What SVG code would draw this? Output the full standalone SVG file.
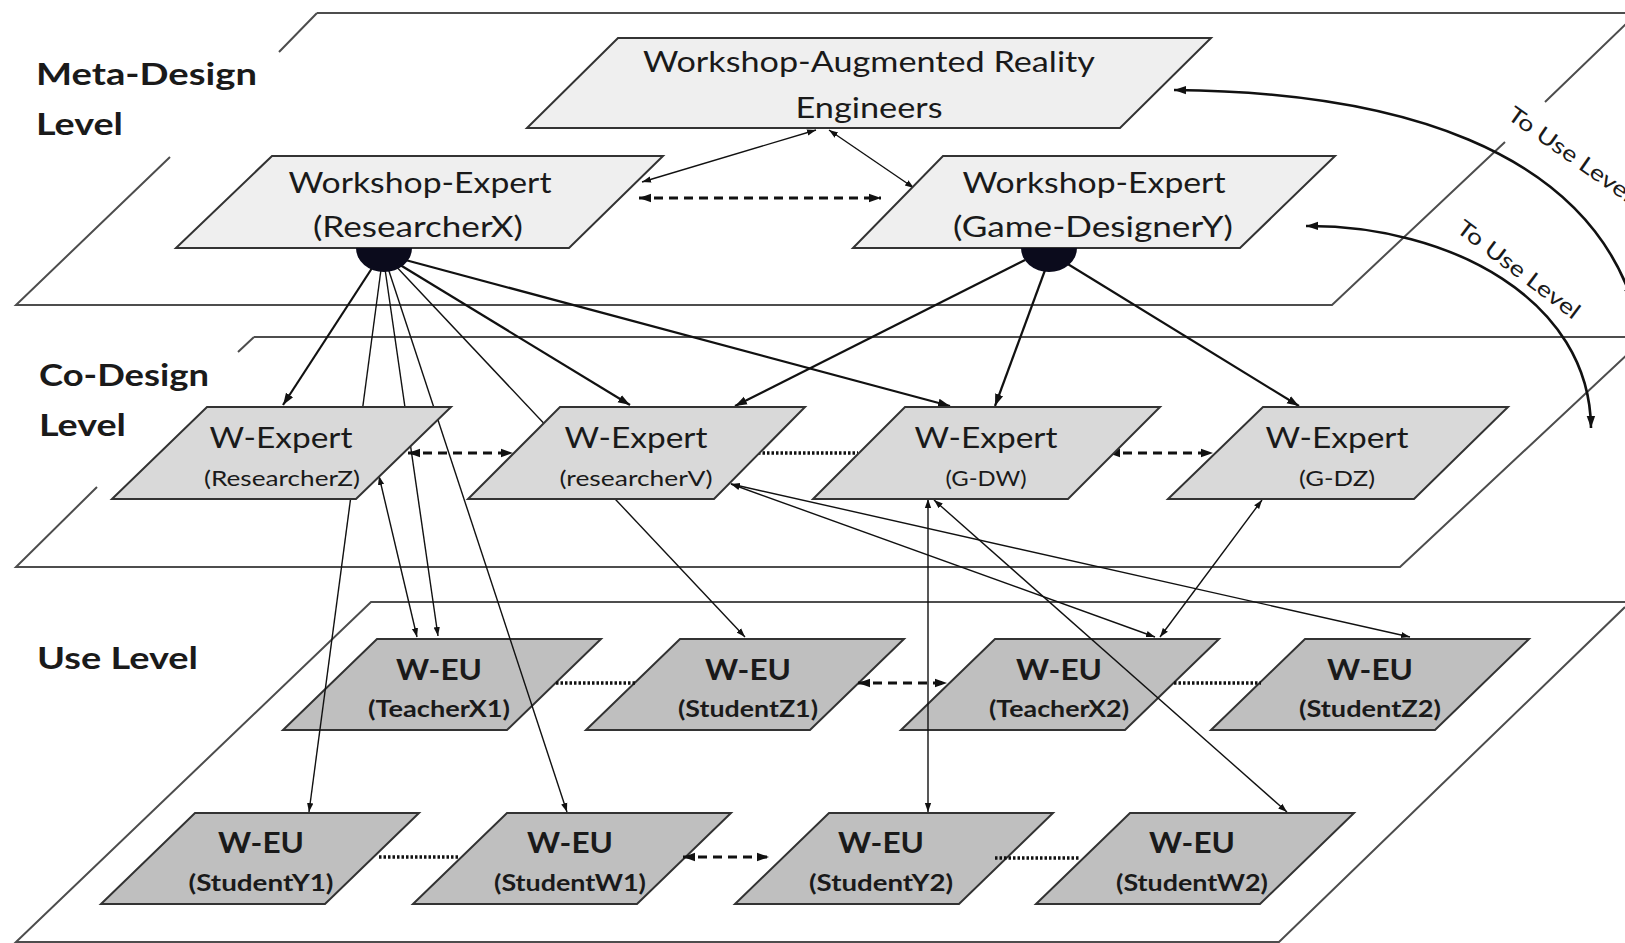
<svg xmlns="http://www.w3.org/2000/svg" width="1625" height="943" viewBox="0 0 1625 943">
<style>
.plane{fill:none;stroke:#4d4d4d;stroke-width:2}
.n1{fill:#efefef;stroke:#333;stroke-width:2}
.n2{fill:#d9d9d9;stroke:#333;stroke-width:2}
.n3{fill:#bfbfbf;stroke:#333;stroke-width:2}
.t{font-family:Lato,"Liberation Sans",sans-serif;fill:#1a1a1a;text-anchor:middle}
.b{font-weight:bold}
.lvl{font-family:Lato,"Liberation Sans",sans-serif;font-weight:bold;font-size:30px;fill:#1a1a1a}
.thin{fill:none;stroke:#111;stroke-width:1.4}
.thick{fill:none;stroke:#111;stroke-width:2.2}
.dash{fill:none;stroke:#111;stroke-width:3;stroke-dasharray:9 6}
.dot{fill:none;stroke:#111;stroke-width:3.5;stroke-dasharray:2.5 2}
.curve{fill:none;stroke:#111;stroke-width:2.6}
.hub{fill:#0b0b1c}
</style>
<defs>
<marker id="a" viewBox="0 0 10 10" refX="10" refY="5" markerWidth="9" markerHeight="9" markerUnits="userSpaceOnUse" orient="auto-start-reverse"><path d="M0,1.5 L10,5 L0,8.5 z" fill="#111"/></marker>
<marker id="ab" viewBox="0 0 10 10" refX="10" refY="5" markerWidth="12" markerHeight="12" markerUnits="userSpaceOnUse" orient="auto-start-reverse"><path d="M0,1.5 L10,5 L0,8.5 z" fill="#111"/></marker>
</defs>
<rect width="1625" height="943" fill="#fff"/>

<g id="planes">
<path class="plane" d="M317,13 L1625,13 M317,13 L279,52 M170,157 L16,305 L1332,305 L1505,142 M1545,102 L1630,20"/>
<path class="plane" d="M254,337 L1625,337 M254,337 L238,352 M97,487 L16,567 L1400,567 L1630,352"/>
<path class="plane" d="M1625,602 L371,602 L16,942 L1279,942 L1625,607"/>
</g>

<g id="level-labels">
<text class="lvl" x="36" y="85" textLength="221" lengthAdjust="spacingAndGlyphs">Meta-Design</text>
<text class="lvl" x="36" y="135" textLength="87" lengthAdjust="spacingAndGlyphs">Level</text>
<text class="lvl" x="39" y="386" textLength="170" lengthAdjust="spacingAndGlyphs">Co-Design</text>
<text class="lvl" x="39" y="436" textLength="87" lengthAdjust="spacingAndGlyphs">Level</text>
<text class="lvl" x="37" y="669" textLength="161" lengthAdjust="spacingAndGlyphs">Use Level</text>
</g>

<g id="use-TeacherX1"><path class="n3" d="M377,639 L601,639 L507,730 L283,730 Z"/>
<text class="t b" x="439" y="680" font-size="28" textLength="86" lengthAdjust="spacingAndGlyphs">W-EU</text>
<text class="t b" x="439" y="717" font-size="22" textLength="142" lengthAdjust="spacingAndGlyphs">(TeacherX1)</text></g>
<g id="use-StudentZ1"><path class="n3" d="M680,639 L904,639 L810,730 L586,730 Z"/>
<text class="t b" x="748" y="680" font-size="28" textLength="86" lengthAdjust="spacingAndGlyphs">W-EU</text>
<text class="t b" x="748" y="717" font-size="22" textLength="140" lengthAdjust="spacingAndGlyphs">(StudentZ1)</text></g>
<g id="use-TeacherX2"><path class="n3" d="M995,639 L1219,639 L1125,730 L901,730 Z"/>
<text class="t b" x="1059" y="680" font-size="28" textLength="86" lengthAdjust="spacingAndGlyphs">W-EU</text>
<text class="t b" x="1059" y="717" font-size="22" textLength="140" lengthAdjust="spacingAndGlyphs">(TeacherX2)</text></g>
<g id="use-StudentZ2"><path class="n3" d="M1305,639 L1529,639 L1435,730 L1211,730 Z"/>
<text class="t b" x="1370" y="680" font-size="28" textLength="86" lengthAdjust="spacingAndGlyphs">W-EU</text>
<text class="t b" x="1370" y="717" font-size="22" textLength="142" lengthAdjust="spacingAndGlyphs">(StudentZ2)</text></g>
<g id="use-StudentY1"><path class="n3" d="M195,813 L419,813 L325,904 L101,904 Z"/>
<text class="t b" x="261" y="853" font-size="28" textLength="86" lengthAdjust="spacingAndGlyphs">W-EU</text>
<text class="t b" x="261" y="891" font-size="22" textLength="145" lengthAdjust="spacingAndGlyphs">(StudentY1)</text></g>
<g id="use-StudentW1"><path class="n3" d="M507,813 L731,813 L637,904 L413,904 Z"/>
<text class="t b" x="570" y="853" font-size="28" textLength="86" lengthAdjust="spacingAndGlyphs">W-EU</text>
<text class="t b" x="570" y="891" font-size="22" textLength="152" lengthAdjust="spacingAndGlyphs">(StudentW1)</text></g>
<g id="use-StudentY2"><path class="n3" d="M829,813 L1053,813 L959,904 L735,904 Z"/>
<text class="t b" x="881" y="853" font-size="28" textLength="86" lengthAdjust="spacingAndGlyphs">W-EU</text>
<text class="t b" x="881" y="891" font-size="22" textLength="144" lengthAdjust="spacingAndGlyphs">(StudentY2)</text></g>
<g id="use-StudentW2"><path class="n3" d="M1130,813 L1354,813 L1260,904 L1036,904 Z"/>
<text class="t b" x="1192" y="853" font-size="28" textLength="86" lengthAdjust="spacingAndGlyphs">W-EU</text>
<text class="t b" x="1192" y="891" font-size="22" textLength="152" lengthAdjust="spacingAndGlyphs">(StudentW2)</text></g>

<g id="connectors">
<path class="thin" d="M642,182 L816,130" marker-start="url(#a)" marker-end="url(#a)"/>
<path class="thin" d="M829,130 L914,188" marker-start="url(#a)" marker-end="url(#a)"/>
<path class="dash" d="M639,198 L881,198" marker-start="url(#ab)" marker-end="url(#ab)"/>
<path class="curve" d="M1174,90 C1400,92 1580,150 1632,300" marker-start="url(#ab)" marker-end="url(#ab)"/>
<path class="curve" d="M1306,226 C1450,225 1590,300 1591,428" marker-start="url(#ab)" marker-end="url(#ab)"/>
<path class="thick" d="M376,262 L283,405" marker-end="url(#ab)"/>
<path class="thin" d="M382,262 L309,812" marker-end="url(#a)"/>
<path class="thin" d="M384,262 L438,636" marker-end="url(#a)"/>
<path class="thin" d="M386,262 L567,812" marker-end="url(#a)"/>
<path class="thin" d="M392,262 L745,637" marker-end="url(#a)"/>
<path class="thick" d="M392,260 L630,405" marker-end="url(#ab)"/>
<path class="thick" d="M398,258 L950,406" marker-end="url(#ab)"/>
<path class="thick" d="M1025,260 L735,406" marker-end="url(#ab)"/>
<path class="thick" d="M1048,262 L995,406" marker-end="url(#ab)"/>
<path class="thick" d="M1058,258 L1299,406" marker-end="url(#ab)"/>
<path class="dash" d="M408,453 L513,453" marker-start="url(#ab)" marker-end="url(#ab)"/>
<path class="dot" d="M758,453 L858,453"/>
<path class="dash" d="M1108,453 L1213,453" marker-start="url(#ab)" marker-end="url(#ab)"/>
<path class="thin" d="M379,476 L417,637" marker-start="url(#a)" marker-end="url(#a)"/>
<path class="thin" d="M731,484 L1155,637" marker-start="url(#a)" marker-end="url(#a)"/>
<path class="thin" d="M731,484 L1410,637" marker-start="url(#a)" marker-end="url(#a)"/>
<path class="thin" d="M928,499 L928,812" marker-start="url(#a)" marker-end="url(#a)"/>
<path class="thin" d="M934,500 L1287,812" marker-start="url(#a)" marker-end="url(#a)"/>
<path class="thin" d="M1262,500 L1160,637" marker-start="url(#a)" marker-end="url(#a)"/>
<path class="dot" d="M556,683 L637,683"/>
<path class="dash" d="M858,683 L947,683" marker-start="url(#ab)" marker-end="url(#ab)"/>
<path class="dot" d="M1174,683 L1261,683"/>
<path class="dot" d="M379,857 L460,857"/>
<path class="dash" d="M683,857 L769,857" marker-start="url(#ab)" marker-end="url(#ab)"/>
<path class="dot" d="M995,858 L1079,858"/>
<text class="t" x="0" y="0" font-size="22" transform="translate(1506,118) rotate(35)" style="text-anchor:start" textLength="148" lengthAdjust="spacingAndGlyphs">To Use Level</text>
<text class="t" x="0" y="0" font-size="22" transform="translate(1455,231) rotate(37)" style="text-anchor:start" textLength="148" lengthAdjust="spacingAndGlyphs">To Use Level</text>
</g>

<g id="co-ResearcherZ"><path class="n2" d="M207,407 L451,407 L356,499 L112,499 Z"/>
<text class="t" x="281" y="448" font-size="28" textLength="143" lengthAdjust="spacingAndGlyphs">W-Expert</text>
<text class="t" x="282" y="486" font-size="22" textLength="156" lengthAdjust="spacingAndGlyphs">(ResearcherZ)</text></g>
<g id="co-researcherV"><path class="n2" d="M560,407 L805,407 L714,499 L468,499 Z"/>
<text class="t" x="636" y="448" font-size="28" textLength="143" lengthAdjust="spacingAndGlyphs">W-Expert</text>
<text class="t" x="636" y="486" font-size="22" textLength="153" lengthAdjust="spacingAndGlyphs">(researcherV)</text></g>
<g id="co-GDW"><path class="n2" d="M905,407 L1160,407 L1068,499 L813,499 Z"/>
<text class="t" x="986" y="448" font-size="28" textLength="143" lengthAdjust="spacingAndGlyphs">W-Expert</text>
<text class="t" x="986" y="486" font-size="22" textLength="81" lengthAdjust="spacingAndGlyphs">(G-DW)</text></g>
<g id="co-GDZ"><path class="n2" d="M1263,407 L1508,407 L1414,499 L1168,499 Z"/>
<text class="t" x="1337" y="448" font-size="28" textLength="143" lengthAdjust="spacingAndGlyphs">W-Expert</text>
<text class="t" x="1337" y="486" font-size="22" textLength="76" lengthAdjust="spacingAndGlyphs">(G-DZ)</text></g>

<g id="meta-AR"><path class="n1" d="M618,38 L1211,38 L1120,128 L527,128 Z"/>
<text class="t" x="869" y="72" font-size="29" textLength="452" lengthAdjust="spacingAndGlyphs">Workshop-Augmented Reality</text>
<text class="t" x="869" y="118" font-size="29" textLength="147" lengthAdjust="spacingAndGlyphs">Engineers</text></g>
<g id="meta-ResearcherX"><path class="n1" d="M272,156 L663,156 L569,248 L176,248 Z"/>
<text class="t" x="420" y="193" font-size="29" textLength="263" lengthAdjust="spacingAndGlyphs">Workshop-Expert</text>
<text class="t" x="418" y="237" font-size="29" textLength="210" lengthAdjust="spacingAndGlyphs">(ResearcherX)</text>
<path class="hub" d="M356,248 A28,24 0 0 0 412,248 Z"/></g>
<g id="meta-GameDesignerY"><path class="n1" d="M943,156 L1335,156 L1240,248 L853,248 Z"/>
<text class="t" x="1094" y="193" font-size="29" textLength="263" lengthAdjust="spacingAndGlyphs">Workshop-Expert</text>
<text class="t" x="1093" y="237" font-size="29" textLength="280" lengthAdjust="spacingAndGlyphs">(Game-DesignerY)</text>
<path class="hub" d="M1021,248 A28,24 0 0 0 1077,248 Z"/></g>
</svg>
